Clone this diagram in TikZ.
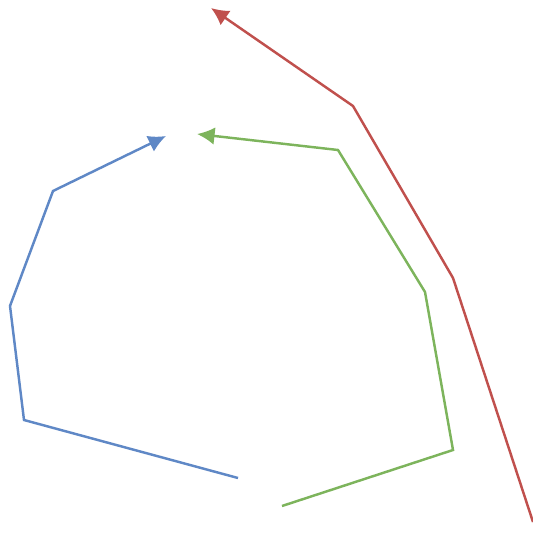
\documentclass[tikz,border=0pt]{standalone}
\usetikzlibrary{arrows.meta}
\definecolor{pathblue}{HTML}{5F88C6}
\definecolor{pathgreen}{HTML}{7DB45C}
\definecolor{pathred}{HTML}{C0504D}
\tikzset{
	route/.style={line width=1.4pt, line join=miter, -{Latex[length=10pt, width=10pt]}}
}
\begin{document}
\begin{tikzpicture}[x=0.02cm, y=0.02cm]
		\useasboundingbox (0,0) rectangle (533,-540);

		% Blue path (innermost)
		\coordinate (B0) at (238,-478);
		\coordinate (B1) at (24,-420);
		\coordinate (B2) at (10,-306);
		\coordinate (B3) at (53,-191);
		\coordinate (B4) at (166,-136);
		\draw[route, pathblue] (B0) -- (B1) -- (B2) -- (B3) -- (B4);

		% Green path (middle)
		\coordinate (G0) at (282,-506);
		\coordinate (G1) at (453,-450);
		\coordinate (G2) at (425,-292);
		\coordinate (G3) at (338,-150);
		\coordinate (G4) at (197,-134);
		\draw[route, pathgreen] (G0) -- (G1) -- (G2) -- (G3) -- (G4);

		% Red path (outermost)
		\coordinate (R0) at (533,-522);
		\coordinate (R1) at (453,-278);
		\coordinate (R2) at (353,-106);
		\coordinate (R3) at (211,-8);
		\draw[route, pathred] (R0) -- (R1) -- (R2) -- (R3);
	\end{tikzpicture}
\end{document}
